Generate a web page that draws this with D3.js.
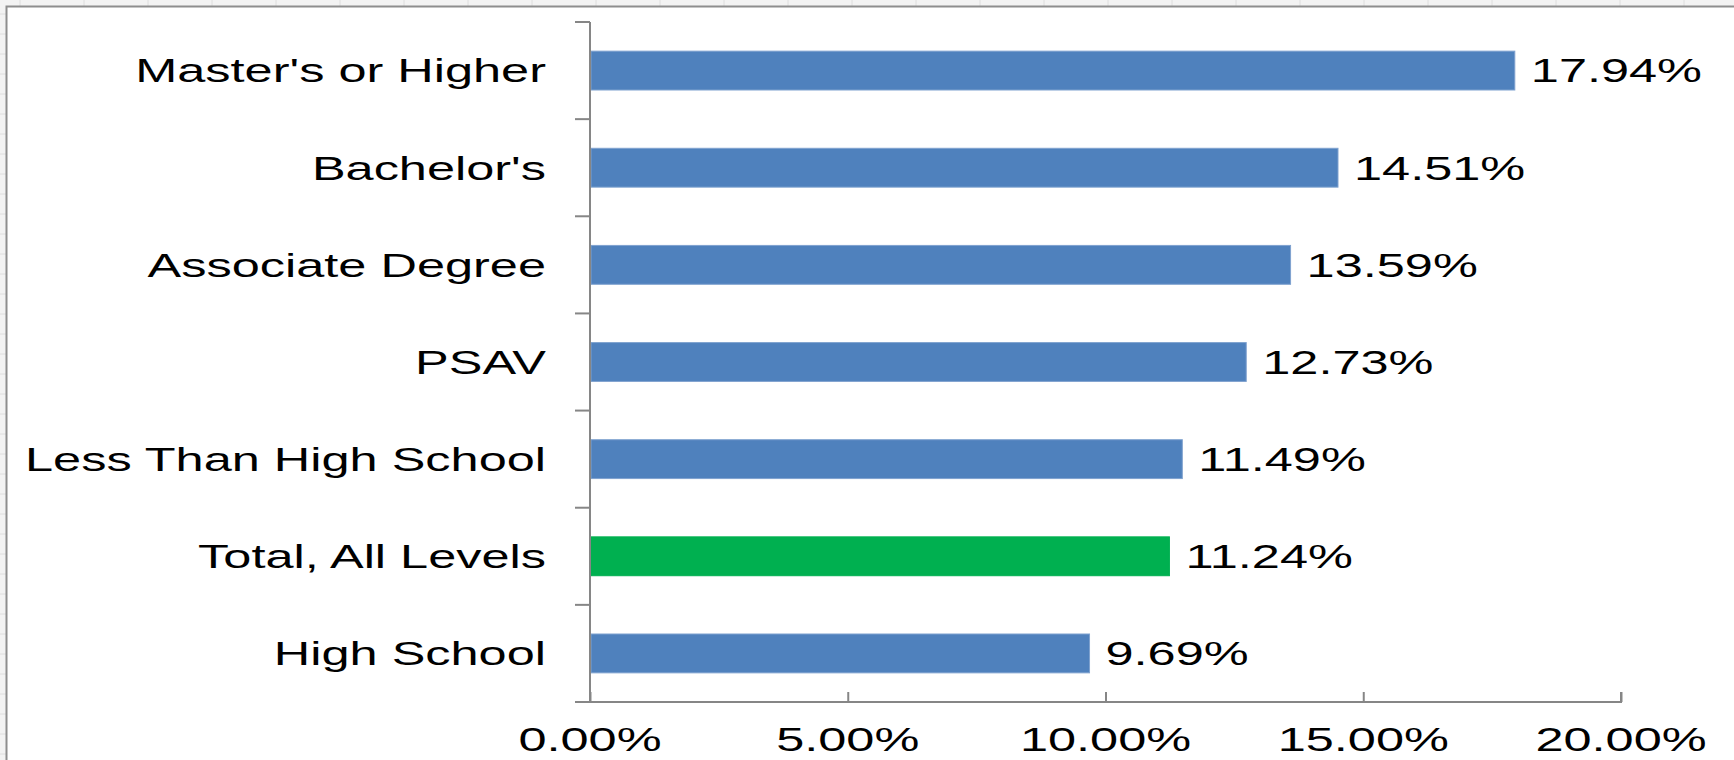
<!DOCTYPE html>
<html>
<head>
<meta charset="utf-8">
<script src="https://cdn.jsdelivr.net/npm/d3@7"></script>
<style>
  body { margin: 0; background: #fff; }
  svg text { font-family: "Liberation Sans", Arial, sans-serif; fill: #000; }
</style>
</head>
<body>
<div id="chart"></div>
<script>
// data, top row first
var categories = ["Master's or Higher", "Bachelor's", "Associate Degree", "PSAV",
                  "Less Than High School", "Total, All Levels", "High School"];
var values = [17.94, 14.51, 13.59, 12.73, 11.49, 11.24, 9.69];
var highlight = ["Total, All Levels"];
var xTicks = [0, 5, 10, 15, 20];

var W = 1734, H = 760;
var plot = { left: 590, right: 1621, top: 22, bottom: 702 };
var fontSize = 33, stretch = 1.53;   // the source picture is stretched sideways

var svg = d3.select('#chart')
  .append('svg')
  .attr('width', W)
  .attr('height', H);

// spreadsheet showing behind the chart frame
svg.append('rect').attr('x', 0).attr('y', 0).attr('width', W).attr('height', 6).attr('fill', '#f3f3f3');
svg.append('rect').attr('x', 0).attr('y', 0).attr('width', 6).attr('height', H).attr('fill', '#f3f3f3');
svg.append('g').selectAll('line')
  .data(d3.range(20, W, 64))
  .enter().append('line')
  .attr('x1', function(d) { return d; }).attr('x2', function(d) { return d; })
  .attr('y1', 0).attr('y2', 6)
  .attr('stroke', '#dedede');
svg.append('g').selectAll('line')
  .data(d3.range(14, H, 20))
  .enter().append('line')
  .attr('x1', 0).attr('x2', 6)
  .attr('y1', function(d) { return d; }).attr('y2', function(d) { return d; })
  .attr('stroke', '#dedede');

// chart frame (top and left edges visible)
svg.append('path')
  .attr('d', 'M6.5,' + H + 'V6.5H' + W)
  .attr('fill', 'none')
  .attr('stroke', '#8e8e8e')
  .attr('stroke-width', 2);

var x = d3.scaleLinear()
  .domain([0, 20])
  .range([plot.left, plot.right]);

var y = d3.scaleBand()
  .domain(categories)
  .range([plot.top, plot.bottom])
  .paddingInner(0.6)
  .paddingOuter(0.3);

var axisColor = '#868686';

// bars
svg.append('g')
  .selectAll('rect')
  .data(values)
  .enter()
  .append('rect')
  .attr('x', x(0) + 1)
  .attr('y', function(d, i) { return y(categories[i]); })
  .attr('width', function(d) { return x(d) - x(0) - 1; })
  .attr('height', y.bandwidth())
  .attr('fill', function(d, i) { return highlight.indexOf(categories[i]) >= 0 ? '#00B050' : '#4F81BD'; })
  .attr('stroke', function(d, i) { return highlight.indexOf(categories[i]) >= 0 ? '#00B050' : '#7FA2CF'; })
  .attr('stroke-width', 1);

// value axis, ticks pointing up into the plot
var xAxis = svg.append('g')
  .attr('transform', 'translate(0,' + plot.bottom + ')')
  .call(d3.axisBottom(x).tickValues(xTicks).tickSize(-10).tickFormat(''));
xAxis.select('.domain')
  .attr('d', 'M' + (plot.left - 15) + ',0H' + x(20) + 'V-10');
xAxis.selectAll('line, path').attr('stroke', axisColor).attr('stroke-width', 2);

// category axis, ticks between the categories
var bounds = d3.range(categories.length + 1).map(function(i) {
  return plot.top + i * (plot.bottom - plot.top) / categories.length;
});
var yAxis = svg.append('g');
yAxis.append('path')
  .attr('d', 'M' + plot.left + ',' + plot.bottom + 'V' + plot.top)
  .attr('stroke', axisColor).attr('stroke-width', 2).attr('fill', 'none');
yAxis.selectAll('line')
  .data(bounds.slice(0, -1))
  .enter().append('line')
  .attr('x1', plot.left - 15).attr('x2', plot.left)
  .attr('y1', function(d) { return d; }).attr('y2', function(d) { return d; })
  .attr('stroke', axisColor).attr('stroke-width', 2);

function stretchedText(sel, fx, fy, anchor, txt) {
  sel.append('text')
    .attr('transform', function(d, i) { return 'translate(' + fx(d, i) + ',' + fy(d, i) + ') scale(' + stretch + ',1)'; })
    .attr('text-anchor', anchor)
    .style('font-size', fontSize + 'px')
    .text(txt);
}

// category labels
var catG = svg.append('g').selectAll('g').data(categories).enter().append('g');
stretchedText(catG,
  function() { return 546; },
  function(d) { return y(d) + y.bandwidth() / 2 + fontSize * 0.36; },
  'end', function(d) { return d; });

// value labels
var valG = svg.append('g').selectAll('g').data(values).enter().append('g');
stretchedText(valG,
  function(d) { return x(d) + 16; },
  function(d, i) { return y(categories[i]) + y.bandwidth() / 2 + fontSize * 0.36; },
  'start', function(d) { return d.toFixed(2) + '%'; });

// tick labels
var tickG = svg.append('g').selectAll('g').data(xTicks).enter().append('g');
stretchedText(tickG,
  function(d) { return x(d); },
  function() { return 751; },
  'middle', function(d) { return d.toFixed(2) + '%'; });
</script>
</body>
</html>
